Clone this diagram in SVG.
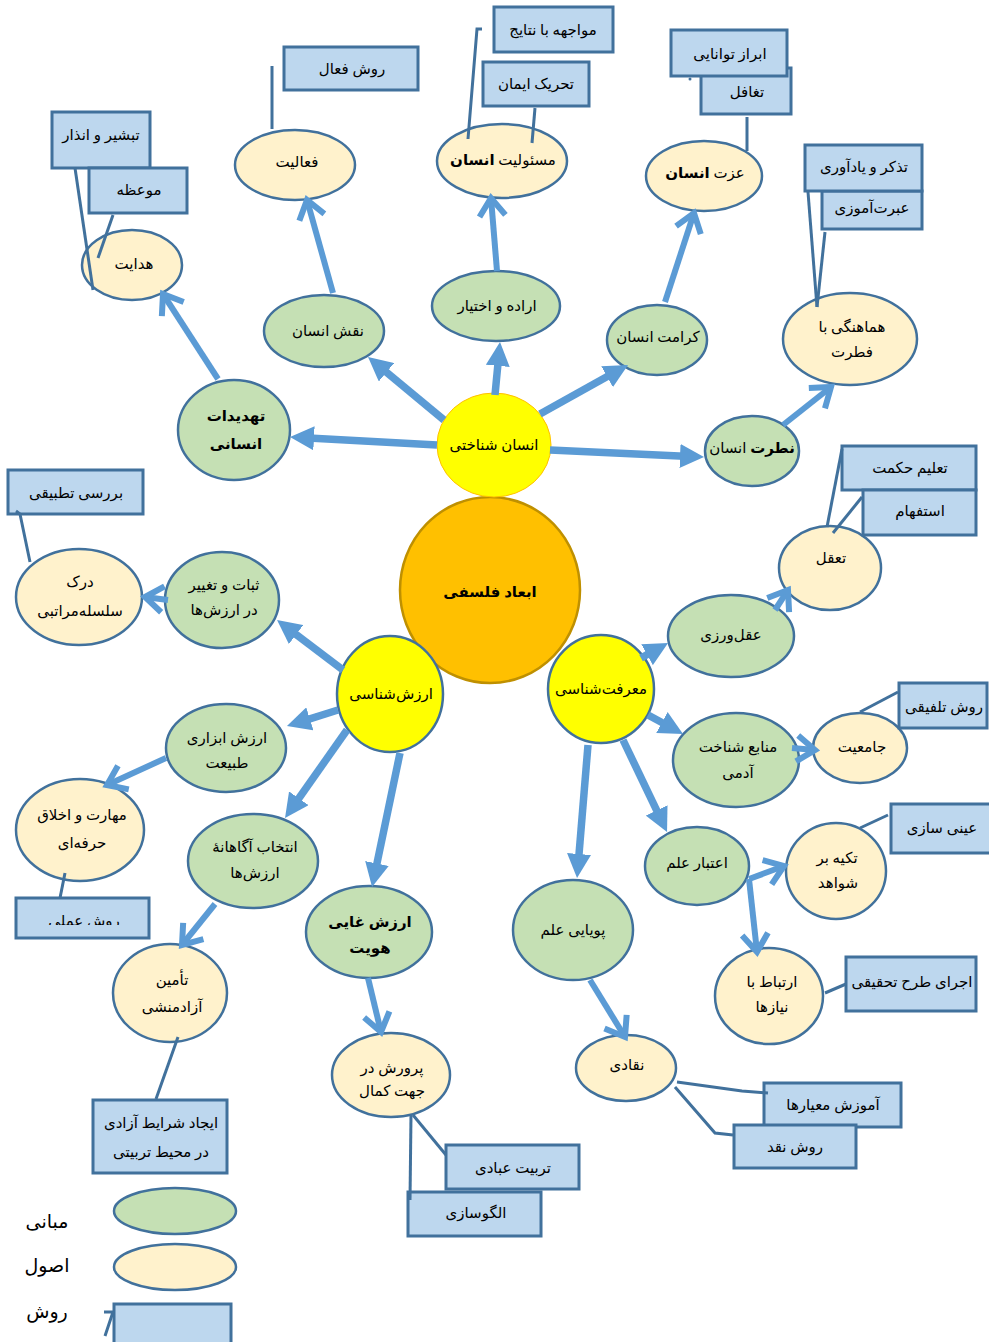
<svg xmlns="http://www.w3.org/2000/svg" width="989" height="1342" viewBox="0 0 989 1342">
<style>
.g{fill:#C5E0B4;stroke:#41719C;stroke-width:2.5}
.c{fill:#FFF2CC;stroke:#41719C;stroke-width:2.5}
.b{fill:#BDD7EE;stroke:#41719C;stroke-width:3}
.t{font-family:"Liberation Serif","DejaVu Sans",serif;font-size:15px;fill:#000;text-anchor:middle;direction:rtl}
.bd{font-weight:bold}
.lg{font-size:19px}
.a{stroke:#5B9BD5;stroke-width:7.5;fill:none;marker-end:url(#tri)}
.ac{stroke:#5B9BD5;stroke-width:6;fill:none;marker-end:url(#chev)}
.l{stroke:#41719C;stroke-width:3;fill:none}
</style>
<defs>
<marker id="tri" markerUnits="userSpaceOnUse" viewBox="-10 -12 24 24" refX="0" refY="0" markerWidth="24" markerHeight="24" orient="auto"><path d="M-10,-12 L14,0 L-10,12 Z" fill="#5B9BD5"/></marker>
<marker id="chev" markerUnits="userSpaceOnUse" viewBox="-24 -18 30 36" refX="0" refY="0" markerWidth="30" markerHeight="36" orient="auto" overflow="visible"><path d="M-18,-13 L0,0 L-18,13" fill="none" stroke="#5B9BD5" stroke-width="6"/></marker>
<clipPath id="clipAmali"><rect x="16" y="898" width="134" height="27"/></clipPath>
</defs>
<rect width="989" height="1342" fill="#fff"/>

<g id="nodes">
<g id="n-falsafi"><ellipse cx="490" cy="590" rx="90" ry="93" fill="#FFC000" stroke="#BF9000" stroke-width="2.5"/><text class="t bd" x="490" y="597" font-size="16">ابعاد فلسفی</text></g>
<g id="n-ensan-shenakhti"><ellipse cx="494" cy="445" rx="57" ry="52" fill="#FFFF00" stroke="#FFC000" stroke-width="1"/><text class="t" x="494" y="450">انسان شناختی</text></g>
<g id="n-arzesh-shenasi"><ellipse cx="390" cy="694" rx="53" ry="58" fill="#FFFF00" stroke="#41719C" stroke-width="2.5"/><text class="t" x="391" y="699">ارزش&#8204;شناسی</text></g>
<g id="n-marefat-shenasi"><ellipse cx="601" cy="689" rx="53" ry="54" fill="#FFFF00" stroke="#41719C" stroke-width="2.5"/><text class="t" x="601" y="694">معرفت&#8204;شناسی</text></g>

<g id="n-tahdidat"><ellipse class="g" cx="234" cy="430" rx="56" ry="50"/><text class="t bd" x="236" y="421" font-size="16">تهدیدات</text><text class="t bd" x="236" y="449" font-size="16">انسانی</text></g>
<g id="n-naghsh"><ellipse class="g" cx="324" cy="331" rx="60" ry="36"/><text class="t" x="328" y="336">نقش انسان</text></g>
<g id="n-erade"><ellipse class="g" cx="496" cy="306" rx="64" ry="35"/><text class="t" x="497" y="311">اراده و اختیار</text></g>
<g id="n-keramat"><ellipse class="g" cx="657" cy="340" rx="50" ry="35"/><text class="t" x="658" y="342">کرامت انسان</text></g>
<g id="n-fetrat-ensan"><ellipse class="g" cx="752" cy="451" rx="47" ry="35"/><text class="t" x="752" y="453"><tspan class="bd">نطرت</tspan> انسان</text></g>
<g id="n-aghlvarzi"><ellipse class="g" cx="731" cy="636" rx="63" ry="41"/><text class="t" x="731" y="640">عقل&#8204;ورزی</text></g>
<g id="n-manabe"><ellipse class="g" cx="736" cy="760" rx="63" ry="47"/><text class="t" x="738" y="752">منابع شناخت</text><text class="t" x="738" y="778">آدمی</text></g>
<g id="n-etebar"><ellipse class="g" cx="697" cy="866" rx="52" ry="39"/><text class="t" x="697" y="868">اعتبار علم</text></g>
<g id="n-pouyayi"><ellipse class="g" cx="573" cy="930" rx="60" ry="50"/><text class="t" x="573" y="935">پویایی علم</text></g>
<g id="n-sobat"><ellipse class="g" cx="222" cy="600" rx="57" ry="48"/><text class="t" x="224" y="590">ثبات و تغییر</text><text class="t" x="224" y="615">در ارزش&#8204;ها</text></g>
<g id="n-abzari"><ellipse class="g" cx="226" cy="748" rx="60" ry="44"/><text class="t" x="227" y="743">ارزش ابزاری</text><text class="t" x="227" y="768">طبیعت</text></g>
<g id="n-entekhab"><ellipse class="g" cx="253" cy="861" rx="65" ry="47"/><text class="t" x="255" y="852">انتخاب آگاهانهٔ</text><text class="t" x="255" y="878">ارزش&#8204;ها</text></g>
<g id="n-ghayi"><ellipse class="g" cx="369" cy="932" rx="63" ry="46"/><text class="t bd" x="370" y="927" font-size="16">ارزش غایی</text><text class="t bd" x="370" y="953" font-size="16">هویت</text></g>

<g id="n-hedayat"><ellipse class="c" cx="132" cy="265" rx="50" ry="35"/><text class="t" x="134" y="269">هدایت</text></g>
<g id="n-faaliat"><ellipse class="c" cx="295" cy="165" rx="60" ry="35"/><text class="t" x="297" y="167">فعالیت</text></g>
<g id="n-masouliat"><ellipse class="c" cx="502" cy="161" rx="65" ry="37"/><text class="t" x="503" y="165">مسئولیت <tspan class="bd">انسان</tspan></text></g>
<g id="n-ezzat"><ellipse class="c" cx="704" cy="176" rx="58" ry="35"/><text class="t" x="705" y="178">عزت <tspan class="bd">انسان</tspan></text></g>
<g id="n-hamahangi"><ellipse class="c" cx="850" cy="339" rx="67" ry="46"/><text class="t" x="852" y="332">هماهنگی با</text><text class="t" x="852" y="357">فطرت</text></g>
<g id="n-taaghol"><ellipse class="c" cx="830" cy="568" rx="51" ry="42"/><text class="t" x="831" y="563">تعقل</text></g>
<g id="n-jameiat"><ellipse class="c" cx="860" cy="748" rx="47" ry="35"/><text class="t" x="862" y="752">جامعیت</text></g>
<g id="n-tekye"><ellipse class="c" cx="836" cy="871" rx="50" ry="48"/><text class="t" x="837" y="863">تکیه بر</text><text class="t" x="838" y="888">شواهد</text></g>
<g id="n-ertebat"><ellipse class="c" cx="769" cy="996" rx="54" ry="48"/><text class="t" x="772" y="987">ارتباط با</text><text class="t" x="772" y="1012">نیازها</text></g>
<g id="n-naghadi"><ellipse class="c" cx="626" cy="1068" rx="50" ry="33"/><text class="t" x="627" y="1070">نقادی</text></g>
<g id="n-parvaresh"><ellipse class="c" cx="391" cy="1075" rx="59" ry="42"/><text class="t" x="392" y="1073">پرورش در</text><text class="t" x="392" y="1096">جهت کمال</text></g>
<g id="n-darak"><ellipse class="c" cx="79" cy="597" rx="63" ry="48"/><text class="t" x="80" y="587">درک</text><text class="t" x="80" y="616">سلسله&#8204;مراتبی</text></g>
<g id="n-maharat"><ellipse class="c" cx="80" cy="830" rx="64" ry="51"/><text class="t" x="82" y="820">مهارت و اخلاق</text><text class="t" x="82" y="848">حرفه&#8204;ای</text></g>
<g id="n-tamin"><ellipse class="c" cx="170" cy="993" rx="57" ry="49"/><text class="t" x="172" y="985">تأمین</text><text class="t" x="172" y="1012">آزادمنشی</text></g>

<g id="b-raveshfaal"><rect class="b" x="284" y="47" width="134" height="43"/><text class="t" x="352" y="74">روش فعال</text></g>
<g id="b-tabshir"><rect class="b" x="52" y="112" width="98" height="56"/><text class="t" x="101" y="140">تبشیر و انذار</text></g>
<g id="b-moeze"><rect class="b" x="89" y="168" width="98" height="45"/><text class="t" x="139" y="195">موعظه</text></g>
<g id="b-movajehe"><rect class="b" x="494" y="7" width="119" height="45"/><text class="t" x="553" y="35">مواجهه با نتایج</text></g>
<g id="b-tahrik"><rect class="b" x="483" y="62" width="106" height="44"/><text class="t" x="536" y="89">تحریک ایمان</text></g>
<g id="b-taghafol"><rect class="b" x="701" y="68" width="90" height="46"/><text class="t" x="747" y="97">تغافل</text></g>
<g id="b-ebraz"><rect class="b" x="671" y="30" width="116" height="46"/><text class="t" x="730" y="59">ابراز توانایی</text></g>
<g id="b-ebrat"><rect class="b" x="822" y="191" width="100" height="38"/><text class="t" x="872" y="213">عبرت&#8204;آموزی</text></g>
<g id="b-tazakor"><rect class="b" x="805" y="145" width="117" height="46"/><text class="t" x="864" y="172">تذکر و یادآوری</text></g>
<g id="b-talim"><rect class="b" x="842" y="446" width="134" height="44"/><text class="t" x="910" y="473">تعلیم حکمت</text></g>
<g id="b-estefham"><rect class="b" x="863" y="490" width="113" height="45"/><text class="t" x="920" y="516">استفهام</text></g>
<g id="b-talfighi"><rect class="b" x="899" y="683" width="88" height="45"/><text class="t" x="944" y="712">روش تلفیقی</text></g>
<g id="b-eyni"><rect class="b" x="891" y="804" width="100" height="49"/><text class="t" x="942" y="833">عینی سازی</text></g>
<g id="b-ejra"><rect class="b" x="846" y="957" width="130" height="54"/><text class="t" x="912" y="987">اجرای طرح تحقیقی</text></g>
<g id="b-amoozesh"><rect class="b" x="764" y="1083" width="137" height="44"/><text class="t" x="833" y="1110">آموزش معیارها</text></g>
<g id="b-naghd"><rect class="b" x="734" y="1125" width="122" height="43"/><text class="t" x="795" y="1152">روش نقد</text></g>
<g id="b-tatbighi"><rect class="b" x="8" y="470" width="135" height="44"/><text class="t" x="76" y="498">بررسی تطبیقی</text></g>
<g id="b-amali"><rect class="b" x="16" y="898" width="133" height="40"/><text class="t" x="84" y="926" clip-path="url(#clipAmali)">روش عملی</text></g>
<g id="b-ijad"><rect class="b" x="93" y="1100" width="134" height="73"/><text class="t" x="161" y="1128">ایجاد شرایط آزادی</text><text class="t" x="161" y="1157">در محیط تربیتی</text></g>
<g id="b-ebadi"><rect class="b" x="446" y="1145" width="133" height="44"/><text class="t" x="513" y="1173">تربیت عبادی</text></g>
<g id="b-olgoo"><rect class="b" x="408" y="1192" width="133" height="44"/><text class="t" x="476" y="1218">الگوسازی</text></g>
</g>

<g id="legend">
<ellipse class="g" cx="175" cy="1211" rx="61" ry="23"/>
<ellipse class="c" cx="175" cy="1267" rx="61" ry="23"/>
<rect class="b" x="114" y="1304" width="117" height="42"/>
<polyline class="l" points="104,1312 113,1312 105,1336"/>
<text class="t lg" x="47" y="1228">مبانی</text>
<text class="t lg" x="47" y="1272">اصول</text>
<text class="t lg" x="47" y="1318">روش</text>
</g>

<g id="connectors">
<line class="a" x1="437" y1="445" x2="304" y2="437.8"/>
<line class="a" x1="444" y1="420" x2="378.8" y2="365.9"/>
<line class="a" x1="495" y1="395" x2="498.7" y2="355.9"/>
<line class="a" x1="540" y1="414" x2="615.8" y2="371.8"/>
<line class="a" x1="550" y1="450" x2="690" y2="456.4"/>
<line class="a" x1="343" y1="670" x2="288.2" y2="628.5"/>
<line class="a" x1="338" y1="710" x2="300.3" y2="721.8"/>
<line class="a" x1="347" y1="730" x2="293.1" y2="806.5"/>
<line class="a" x1="400" y1="753" x2="374.9" y2="873.3"/>
<line class="a" x1="641" y1="658" x2="655.8" y2="649.8"/>
<line class="a" x1="648" y1="715" x2="670.7" y2="727.3"/>
<line class="a" x1="623" y1="740" x2="661" y2="819.4"/>
<line class="a" x1="588" y1="745" x2="578.2" y2="864"/>

<line class="ac" x1="218" y1="379" x2="163" y2="294"/>
<line class="ac" x1="333" y1="293" x2="307" y2="200"/>
<line class="ac" x1="497" y1="271" x2="491" y2="198"/>
<line class="ac" x1="665" y1="302" x2="694" y2="213"/>
<line class="ac" x1="783" y1="425" x2="831" y2="387"/>
<line class="ac" x1="775" y1="610" x2="788" y2="590"/>
<line class="ac" x1="168" y1="600" x2="145" y2="597"/>
<line class="ac" x1="166" y1="758" x2="107" y2="785"/>
<line class="ac" x1="215" y1="904" x2="182" y2="945"/>
<line class="ac" x1="368" y1="978" x2="381" y2="1032"/>
<line class="ac" x1="590" y1="980" x2="625" y2="1037"/>
<line class="ac" x1="792" y1="748" x2="815" y2="750"/>
<line class="ac" x1="749" y1="879" x2="784" y2="866"/>
<line class="ac" x1="749" y1="879" x2="757" y2="952"/>

<line class="l" x1="272" y1="66" x2="272" y2="129"/>
<line class="l" x1="75" y1="168" x2="93" y2="290"/>
<line class="l" x1="113" y1="215" x2="98" y2="258"/>
<line class="l" x1="535" y1="108" x2="532" y2="143"/>
<polyline class="l" points="482,29 477,29 468,139"/>
<line class="l" x1="747" y1="117" x2="747" y2="151"/>
<circle cx="690" cy="79" r="1.5" fill="#41719C"/>
<line class="l" x1="808" y1="192" x2="817" y2="307"/>
<line class="l" x1="825" y1="232" x2="817" y2="307"/>
<line class="l" x1="842" y1="449" x2="827" y2="527"/>
<line class="l" x1="862" y1="497" x2="833" y2="533"/>
<line class="l" x1="898" y1="692" x2="860" y2="712"/>
<line class="l" x1="888" y1="815" x2="860" y2="828"/>
<line class="l" x1="825" y1="993" x2="846" y2="984"/>
<polyline class="l" points="677,1082 742,1091 768,1093"/>
<polyline class="l" points="675,1087 715,1133 733,1135"/>
<polyline class="l" points="16,511 20,514 30,562"/>
<line class="l" x1="65" y1="873" x2="60" y2="898"/>
<line class="l" x1="178" y1="1037" x2="156" y2="1099"/>
<line class="l" x1="411" y1="1115" x2="410" y2="1200"/>
<line class="l" x1="413" y1="1115" x2="446" y2="1155"/>
</g>
</svg>
